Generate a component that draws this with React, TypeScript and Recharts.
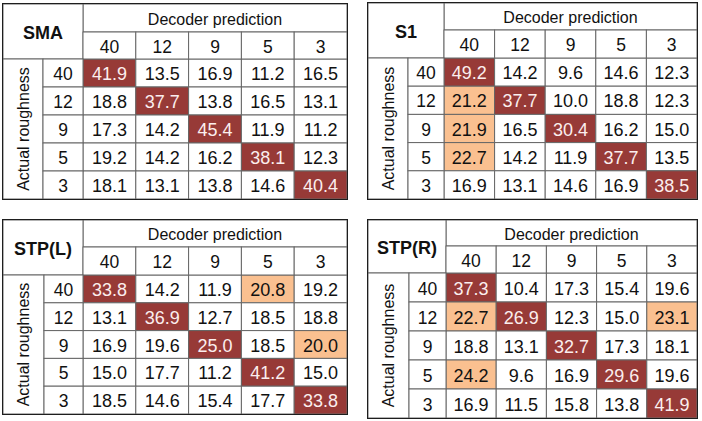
import React from 'react';
import { ScatterChart, Scatter, XAxis, YAxis } from 'recharts';

// column / row categories (roughness levels)
const predictedLevels = ['40', '12', '9', '5', '3'];
const actualLevels = ['40', '12', '9', '5', '3'];

// decoding percentages, rows = actual, cols = predicted
const smaValues = [
  [41.9, 13.5, 16.9, 11.2, 16.5],
  [18.8, 37.7, 13.8, 16.5, 13.1],
  [17.3, 14.2, 45.4, 11.9, 11.2],
  [19.2, 14.2, 16.2, 38.1, 12.3],
  [18.1, 13.1, 13.8, 14.6, 40.4],
];
const s1Values = [
  [49.2, 14.2, 9.6, 14.6, 12.3],
  [21.2, 37.7, 10.0, 18.8, 12.3],
  [21.9, 16.5, 30.4, 16.2, 15.0],
  [22.7, 14.2, 11.9, 37.7, 13.5],
  [16.9, 13.1, 14.6, 16.9, 38.5],
];
const stpLValues = [
  [33.8, 14.2, 11.9, 20.8, 19.2],
  [13.1, 36.9, 12.7, 18.5, 18.8],
  [16.9, 19.6, 25.0, 18.5, 20.0],
  [15.0, 17.7, 11.2, 41.2, 15.0],
  [18.5, 14.6, 15.4, 17.7, 33.8],
];
const stpRValues = [
  [37.3, 10.4, 17.3, 15.4, 19.6],
  [22.7, 26.9, 12.3, 15.0, 23.1],
  [18.8, 13.1, 32.7, 17.3, 18.1],
  [24.2, 9.6, 16.9, 29.6, 19.6],
  [16.9, 11.5, 15.8, 13.8, 41.9],
];

// off-diagonal cells shaded light orange: [row, col]
const smaLight: number[][] = [];
const s1Light = [[1, 0], [2, 0], [3, 0]];
const stpLLight = [[0, 3], [2, 4]];
const stpRLight = [[1, 0], [1, 4], [3, 0]];

const FONT = '"Liberation Sans", Arial, sans-serif';
const DARK = '#973a37';
const LIGHT = '#fac090';
const GRID = '#666';
const PAD = 2;

type PanelProps = {
  title: string;
  values: number[][];
  light: number[][];
  left: number;
  top: number;
  width: number;
  height: number;
  rowHeadW: number;
  rowLabelW: number;
  headH: number;
  axisH: number;
};

const Panel = ({ title, values, light, left, top, width, height, rowHeadW, rowLabelW, headH, axisH }: PanelProps) => {
  const yW = rowHeadW + rowLabelW;
  const cw = (width - yW) / predictedLevels.length;
  const ch = (height - axisH) / actualLevels.length;
  const labH = axisH - headH;

  const data = values.flatMap((row, r) =>
    row.map((v, c) => ({
      col: c,
      row: r,
      value: v,
      kind: r === c ? 'dark' : light.some(([lr, lc]) => lr === r && lc === c) ? 'light' : 'none',
    }))
  );

  const colTick = (p: any) => (
    <g>
      <rect x={p.x - cw / 2} y={p.y - labH} width={cw} height={labH} fill="#fff" stroke={GRID} />
      <text x={p.x} y={p.y - labH / 2 + 1} textAnchor="middle" dominantBaseline="central" fontSize={17.5} fill="#111" fontFamily={FONT}>
        {predictedLevels[p.payload.value]}
      </text>
    </g>
  );

  const rowTick = (p: any) => (
    <g>
      <rect x={p.x - rowLabelW} y={p.y - ch / 2} width={rowLabelW} height={ch} fill="#fff" stroke={GRID} />
      <text x={p.x - rowLabelW / 2} y={p.y + 1} textAnchor="middle" dominantBaseline="central" fontSize={17.5} fill="#111" fontFamily={FONT}>
        {actualLevels[p.payload.value]}
      </text>
    </g>
  );

  const topHeader = (p: any) => {
    const vb = p.viewBox;
    if (!vb) return null;
    return (
      <g>
        <rect x={vb.x} y={vb.y} width={vb.width} height={headH} fill="#fff" stroke={GRID} />
        <text x={vb.x + vb.width / 2} y={vb.y + headH / 2 + 1} textAnchor="middle" dominantBaseline="central" fontSize={16} fill="#111" fontFamily={FONT}>
          Decoder prediction
        </text>
        <rect x={vb.x - yW} y={vb.y} width={yW} height={vb.height} fill="#fff" stroke={GRID} />
        <text x={vb.x - yW / 2} y={vb.y + vb.height / 2 + 1} textAnchor="middle" dominantBaseline="central" fontSize={18} fontWeight="bold" fill="#111" fontFamily={FONT}>
          {title}
        </text>
      </g>
    );
  };

  const sideHeader = (p: any) => {
    const vb = p.viewBox;
    if (!vb) return null;
    const cx = vb.x + rowHeadW / 2;
    const cy = vb.y + vb.height / 2;
    return (
      <g>
        <rect x={vb.x} y={vb.y} width={rowHeadW} height={vb.height} fill="#fff" stroke={GRID} />
        <text x={cx} y={cy} transform={`rotate(-90 ${cx} ${cy})`} textAnchor="middle" dominantBaseline="central" fontSize={16} fill="#111" fontFamily={FONT}>
          Actual roughness
        </text>
      </g>
    );
  };

  const cellShape = (p: any) => {
    const k = p.payload.kind;
    return (
      <g>
        <rect
          x={p.cx - cw / 2}
          y={p.cy - ch / 2}
          width={cw}
          height={ch}
          fill={k === 'dark' ? DARK : k === 'light' ? LIGHT : '#fff'}
          stroke={GRID}
        />
        <text
          x={p.cx}
          y={p.cy + 1}
          textAnchor="middle"
          dominantBaseline="central"
          fontSize={18}
          fill={k === 'dark' ? '#fbeeee' : '#111'}
          fontFamily={FONT}
        >
          {p.payload.value.toFixed(1)}
        </text>
      </g>
    );
  };

  return (
    <div style={{ position: 'absolute', left: left - PAD, top: top - PAD, width: width + 2 * PAD, height: height + 2 * PAD }}>
      <ScatterChart width={width + 2 * PAD} height={height + 2 * PAD} margin={{ top: PAD, right: PAD, bottom: PAD, left: PAD }}>
        <XAxis
          type="number"
          dataKey="col"
          orientation="top"
          domain={[-0.5, 4.5]}
          ticks={[0, 1, 2, 3, 4]}
          interval={0}
          height={axisH}
          tickSize={0}
          tickMargin={0}
          axisLine={false}
          tickLine={false}
          tick={colTick}
          label={{ content: topHeader }}
        />
        <YAxis
          type="number"
          dataKey="row"
          reversed
          domain={[-0.5, 4.5]}
          ticks={[0, 1, 2, 3, 4]}
          interval={0}
          width={yW}
          tickSize={0}
          tickMargin={0}
          axisLine={false}
          tickLine={false}
          tick={rowTick}
          label={{ content: sideHeader }}
        />
        <Scatter data={data} shape={cellShape} isAnimationActive={false} />
      </ScatterChart>
      <div
        style={{
          position: 'absolute',
          left: PAD - 0.75,
          top: PAD - 0.75,
          width: width + 1.5,
          height: height + 1.5,
          border: '1.5px solid #1e1e1e',
          boxSizing: 'border-box',
          pointerEvents: 'none',
        }}
      />
    </div>
  );
};

export default function App() {
  return (
    <div style={{ position: 'absolute', left: 0, top: 0, width: 702, height: 421, background: '#fff', overflow: 'hidden' }}>
      <Panel title="SMA" values={smaValues} light={smaLight} left={3} top={4} width={344} height={195} rowHeadW={40} rowLabelW={40} headH={28} axisH={55} />
      <Panel title="S1" values={s1Values} light={s1Light} left={368} top={3} width={329} height={196} rowHeadW={40} rowLabelW={36} headH={27} axisH={55} />
      <Panel title="STP(L)" values={stpLValues} light={stpLLight} left={3} top={220} width={344} height={194} rowHeadW={41} rowLabelW={39} headH={27} axisH={55} />
      <Panel title="STP(R)" values={stpRValues} light={stpRLight} left={368} top={220} width={329} height={198} rowHeadW={41} rowLabelW={37} headH={26} axisH={53} />
    </div>
  );
}
